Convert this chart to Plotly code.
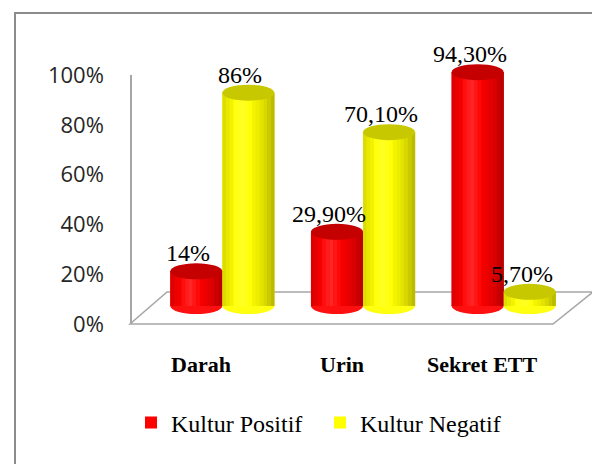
import plotly.graph_objects as go

# ---- data ----
categories = ["Darah", "Urin", "Sekret ETT"]
series_names = ["Kultur Positif", "Kultur Negatif"]
positif = [0.14, 0.299, 0.943]
negatif = [0.86, 0.701, 0.057]
positif_labels = ["14%", "29,90%", "94,30%"]
negatif_labels = ["86%", "70,10%", "5,70%"]
y_tick_values = [0, 0.2, 0.4, 0.6, 0.8, 1.0]
y_tick_labels = ["0%", "20%", "40%", "60%", "80%", "100%"]

# ---- geometry / style ----
W, H = 600, 464
PAGE_OFF = 8               # browser body margin offset
ML, MR, MT, MB = 92, 34, 32, 132
PW, PH = W - ML - MR, H - MT - MB
PLOT_LEFT = 152            # page px where the category band starts
BW = 0.37                  # bar width (category units)
PX_PER_UNIT = 248.0        # vertical px for value 1.0
BASE_PX = 306              # page px of value 0 for cylinders
EH = 8 / PX_PER_UNIT       # ellipse half-height in data units
N_STRIPS = 14

RED_RGB, RED_TOP = (255, 0, 0), "#C40000"
YEL_RGB, YEL_TOP = (255, 255, 0), "#C8C800"
GRID = "#A6A6A6"
SERIF = "Liberation Serif, Times New Roman, serif"


def px_x(p):
    return (p - PAGE_OFF - ML) / PW


def px_y(p):
    return (H - MB - (p - PAGE_OFF)) / PH


def shade(rgb, t):
    # brightness profile across a cylinder (t: 0 left .. 1 right)
    if t < 0.38:
        f = 1 - 0.16 * ((0.38 - t) / 0.38) ** 2
    else:
        f = 1 - 0.30 * ((t - 0.38) / 0.62) ** 2
    hl = max(0.0, 1 - abs(t - 0.38) / 0.2) * 40
    r, g, b = (min(255, int(c * f + hl)) for c in rgb)
    return f"rgb({r},{g},{b})"


x_dom0 = px_x(PLOT_LEFT)
top_fig = MT + PAGE_OFF
bot_fig = H - MB + PAGE_OFF
y_lo = (BASE_PX - bot_fig) / PX_PER_UNIT
y_hi = (BASE_PX - top_fig) / PX_PER_UNIT

idx = list(range(len(categories)))

fig = go.Figure()
series = [
    (series_names[0], positif, positif_labels, RED_RGB, RED_TOP, -BW),
    (series_names[1], negatif, negatif_labels, YEL_RGB, YEL_TOP, 0.0),
]
shapes = []
annotations = []

# floor (3D base) and outer frame
floor = [(130, 324), (553, 324), (593, 292), (167, 292)]
path = "M " + " L ".join(f"{px_x(a)},{px_y(b)}" for a, b in floor) + " Z"
shapes.append(dict(type="path", xref="paper", yref="paper", path=path,
                   fillcolor="white", line=dict(color=GRID, width=1.5), layer="below"))
shapes.append(dict(type="rect", xref="paper", yref="paper",
                   x0=px_x(15), y0=px_y(H + 20), x1=px_x(W + 20), y1=px_y(13),
                   line=dict(color="#8C8C8C", width=2), fillcolor="rgba(0,0,0,0)", layer="below"))

for name, vals, labels, rgb, topcol, off in series:
    body = "rgb({},{},{})".format(*rgb)
    fig.add_trace(go.Bar(
        x=idx, y=vals, name=name, width=BW, offset=off,
        marker=dict(color=body, line=dict(width=0)),
        hoverinfo="skip",
    ))
    for i, v, lab in zip(idx, vals, labels):
        x0, x1 = i + off, i + off + BW
        dx = BW / N_STRIPS
        # bottom ellipse
        shapes.append(dict(type="circle", xref="x", yref="y", x0=x0, x1=x1,
                           y0=-EH, y1=EH, fillcolor=shade(rgb, 0.5), line=dict(width=0), layer="below"))
        # shaded body strips
        for k in range(N_STRIPS):
            t = (k + 0.5) / N_STRIPS
            shapes.append(dict(type="rect", xref="x", yref="y",
                               x0=x0 + k * dx, x1=x0 + (k + 1) * dx + dx * 0.05,
                               y0=0, y1=v, fillcolor=shade(rgb, t), line=dict(width=0)))
        # top ellipse
        shapes.append(dict(type="circle", xref="x", yref="y", x0=x0, x1=x1,
                           y0=v - EH, y1=v + EH, fillcolor=topcol, line=dict(width=0)))
        annotations.append(dict(x=(x0 + x1) / 2, y=v, xref="x", yref="y", text=lab,
                                showarrow=False, yshift=18, xshift=-8,
                                xanchor="center", yanchor="middle",
                                font=dict(family=SERIF, size=24, color="#000000")))

for i, c in zip(idx, categories):
    annotations.append(dict(x=i, y=px_y(364), xref="x", yref="paper", text=f"<b>{c}</b>",
                            showarrow=False, xshift=-21, xanchor="center", yanchor="middle",
                            font=dict(family=SERIF, size=22, color="#000000")))

# invisible helper trace to carry the percentage axis
fig.add_trace(go.Scatter(x=[0], y=[0], xaxis="x", yaxis="y2", mode="markers",
                         marker=dict(opacity=0), showlegend=False, hoverinfo="skip"))

fig.update_layout(
    width=W, height=H,
    margin=dict(l=ML, r=MR, t=MT, b=MB, autoexpand=False),
    paper_bgcolor="white", plot_bgcolor="rgba(0,0,0,0)",
    barmode="overlay",
    showlegend=True,
    xaxis=dict(domain=[x_dom0, 1], range=[-0.5, 2.5], visible=False, fixedrange=True),
    yaxis=dict(range=[y_lo, y_hi], visible=False, fixedrange=True),
    yaxis2=dict(domain=[px_y(324), px_y(75)], range=[0, 1], anchor="free",
                position=px_x(131), side="left",
                tickvals=y_tick_values, ticktext=y_tick_labels,
                showgrid=False, zeroline=False, showline=True, linecolor=GRID, linewidth=1.5,
                ticks="", ticklabelstandoff=22,
                tickfont=dict(family="Open Sans", size=22, color="#262626")),
    legend=dict(orientation="h", x=px_x(131), xanchor="left", y=px_y(423), yanchor="middle",
                font=dict(family=SERIF, size=24, color="#000000"),
                itemwidth=30, entrywidth=144, entrywidthmode="pixels",
                bgcolor="rgba(0,0,0,0)"),
    shapes=shapes,
    annotations=annotations,
)

fig.write_html("out.html")
